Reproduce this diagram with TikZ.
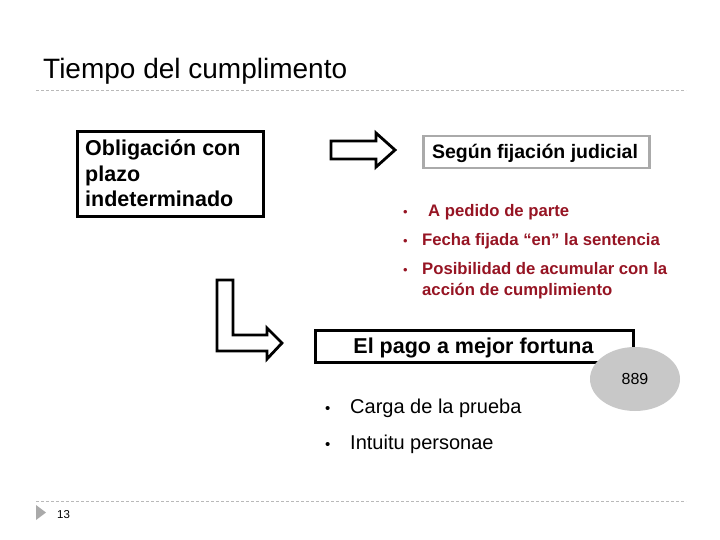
\documentclass[tikz,border=0pt]{standalone}
\usepackage{fontspec}
\setmainfont{Liberation Sans}
\usetikzlibrary{positioning,shapes.geometric}

\definecolor{rulegrey}{RGB}{185,185,185}
\definecolor{framegrey}{RGB}{170,170,170}
\definecolor{ovalgrey}{RGB}{200,200,200}
\definecolor{itemred}{RGB}{150,20,35}
\newcommand{\fsz}[2]{\fontsize{#1}{#2}\selectfont}

\begin{document}
\begin{tikzpicture}[x=1pt, y=-1pt,
    rulerline/.style={draw=rulegrey, line width=0.8pt, dash pattern=on 3pt off 2pt},
    framebox/.style={draw=black, line width=3pt, inner sep=0pt},
    greyframe/.style={draw=framegrey, line width=2.5pt, inner sep=0pt},
    blockarrow/.style={draw=black, line width=2.8pt, fill=white, line join=miter},
    redtext/.style={anchor=base west, inner sep=0pt, text=itemred, font=\bfseries\fsz{16.7}{21}},
    blacktext/.style={anchor=base west, inner sep=0pt, font=\fsz{20}{24}}]
  \useasboundingbox (0,0) rectangle (720,540);

  % title and rulers
  \node[anchor=base west, inner sep=0pt, font=\fsz{28}{33}] (title) at (43,79) {Tiempo del cumplimento};
  \coordinate (topL) at (36,90);   \coordinate (topR) at (686,90);
  \coordinate (botL) at (36,501);  \coordinate (botR) at (686,501);
  \draw[rulerline] (topL) -- (topR);
  \draw[rulerline] (botL) -- (botR);
  \fill[framegrey] (36,505) -- (46,512.5) -- (36,520) -- cycle;
  \node[anchor=base west, inner sep=0pt, font=\fsz{11.5}{14}] (pagenum) at (57,518) {13};

  % first box
  \node[framebox, minimum width=186pt, minimum height=85pt, anchor=north west] (oblig) at (76,130) {};
  \foreach \txt [count=\i] in {Obligación con, plazo, indeterminado}{
    \node[anchor=base west, inner sep=0pt, font=\bfseries\fsz{21.5}{25.5}] (oblig\i) at (85,{156+25.5*(\i-1)}) {\txt};
  }

  % block arrows
  \draw[blockarrow] (331,141) -- (376,141) -- (376,133) -- (395,150) -- (376,167)
    -- (376,159) -- (331,159) -- cycle;
  \draw[blockarrow] (217,280) -- (233,280) -- (233,335) -- (267,335) -- (267,328)
    -- (282,343) -- (267,359) -- (267,351) -- (217,351) -- cycle;

  % judicial box and its items
  \node[greyframe, minimum width=226pt, minimum height=32pt, anchor=north west] (segun) at (422,135) {};
  \node[anchor=base, inner sep=0pt, font=\bfseries\fsz{19.5}{23}] (seguntxt) at (535,159) {Según fijación judicial};

  \foreach \yb/\xt/\txt [count=\n] in {217/428/A pedido de parte, 245/422/Fecha fijada “en” la sentencia,
      274/422/Posibilidad de acumular con la}{
    \node[redtext, font=\fsz{13}{16}] (dot\n) at (403,\yb) {•};
    \node[redtext] (item\n) at (\xt,\yb) {\txt};
  }
  \node[redtext] (item4) at (422,295) {acción de cumplimiento};

  % second box
  \node[framebox, minimum width=318pt, minimum height=32pt, anchor=north west] (pago) at (314,329) {};
  \node[anchor=base, inner sep=0pt, font=\bfseries\fsz{21.5}{25}] (pagotxt) at (473.5,353) {El pago a mejor fortuna};
  \node[ellipse, fill=ovalgrey, minimum width=90pt, minimum height=64pt, inner sep=0pt,
    font=\fsz{16}{19}] (oval) at (635,379) {889};

  \foreach \yb/\txt [count=\n] in {413/Carga de la prueba, 449/Intuitu personae}{
    \node[blacktext, font=\fsz{15}{18}] (bdot\n) at (325,\yb) {•};
    \node[blacktext] (bitem\n) at (350,\yb) {\txt};
  }
\end{tikzpicture}
\end{document}
